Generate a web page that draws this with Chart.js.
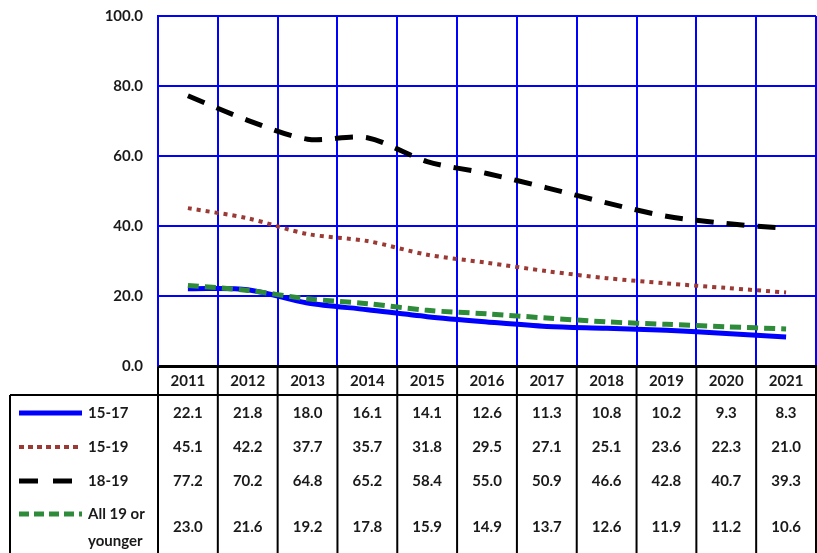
<!DOCTYPE html>
<html>
<head>
<meta charset="utf-8">
<script src="https://cdn.jsdelivr.net/npm/chart.js@4/dist/chart.umd.min.js"></script>
<style>
  html, body { margin: 0; padding: 0; background: #fff; }
  #wrap { width: 817px; height: 553px; }
</style>
</head>
<body>
<div id="wrap"><canvas id="myChart" width="817" height="553"></canvas></div>
<script>
// Years along the bottom, and the four series shown in the table.
const years = ["2011", "2012", "2013", "2014", "2015", "2016", "2017", "2018", "2019", "2020", "2021"];
const age1517 = [22.1, 21.8, 18.0, 16.1, 14.1, 12.6, 11.3, 10.8, 10.2, 9.3, 8.3];
const age1519 = [45.1, 42.2, 37.7, 35.7, 31.8, 29.5, 27.1, 25.1, 23.6, 22.3, 21.0];
const age1819 = [77.2, 70.2, 64.8, 65.2, 58.4, 55.0, 50.9, 46.6, 42.8, 40.7, 39.3];
const ageAll = [23.0, 21.6, 19.2, 17.8, 15.9, 14.9, 13.7, 12.6, 11.9, 11.2, 10.6];
const seriesNames = ["15-17", "15-19", "18-19", ["All 19 or", "younger"]];

const FONT = "Lato, 'Liberation Sans', sans-serif";
const GRID_BLUE = "#0000ff";

// keyDash: dash pattern for the little legend sample in the table
const seriesStyles = [
  { color: "#0000ff", dash: [], keyDash: [], width: 5 },
  { color: "#9b3a35", dash: [4, 5], keyDash: [5, 4], width: 4 },
  { color: "#000000", dash: [18, 13], keyDash: [19, 15], width: 5 },
  { color: "#2e8b3a", dash: [11, 6], keyDash: [10, 5], width: 5 },
];

const allSeries = [age1517, age1519, age1819, ageAll];

// draws the data table (with legend keys) under the plot, lined up with the x scale
const dataTable = {
  id: "dataTable",
  afterDraw(chart) {
    const ctx = chart.ctx;
    const xs = chart.scales.x;
    const area = chart.chartArea;
    const n = years.length;
    const centers = years.map((_, i) => xs.getPixelForValue(i));
    const bounds = [area.left];
    for (let i = 0; i < n - 1; i++) bounds.push((centers[i] + centers[i + 1]) / 2);
    bounds.push(area.right);

    const top = area.bottom + 1;
    const headBottom = area.bottom + 29;
    const bottom = chart.height;
    const tableLeft = 10;

    ctx.save();
    ctx.strokeStyle = "#000";
    ctx.lineWidth = 2;
    ctx.beginPath();
    ctx.moveTo(area.left, top);
    ctx.lineTo(area.right, top);
    ctx.moveTo(tableLeft, headBottom);
    ctx.lineTo(area.right, headBottom);
    bounds.forEach(b => {
      ctx.moveTo(b, top);
      ctx.lineTo(b, bottom);
    });
    ctx.moveTo(tableLeft, headBottom);
    ctx.lineTo(tableLeft, bottom);
    ctx.stroke();

    const rowCenters = [headBottom + 18, headBottom + 52, headBottom + 86, headBottom + 132];
    ctx.font = "bold 15px " + FONT;
    ctx.fillStyle = "#1a1a1a";
    ctx.textBaseline = "middle";

    allSeries.forEach((vals, r) => {
      const y = rowCenters[r];
      const st = seriesStyles[r];
      const name = seriesNames[r];
      const keyY = Array.isArray(name) ? y - 13 : y;
      // legend key
      ctx.save();
      ctx.strokeStyle = st.color;
      ctx.lineWidth = st.width;
      ctx.setLineDash(st.keyDash);
      ctx.beginPath();
      ctx.moveTo(19, keyY);
      ctx.lineTo(82, keyY);
      ctx.stroke();
      ctx.restore();

      ctx.textAlign = "left";
      if (Array.isArray(name)) {
        ctx.fillText(name[0], 88, y - 13);
        ctx.fillText(name[1], 88, y + 14);
      } else {
        ctx.fillText(name, 88, y);
      }

      ctx.textAlign = "center";
      vals.forEach((v, i) => ctx.fillText(v.toFixed(1), centers[i], y));
    });
    ctx.restore();
  }
};

const ctx = document.getElementById("myChart").getContext("2d");

new Chart(ctx, {
  type: "line",
  data: {
    labels: years,
    datasets: allSeries.map((vals, i) => ({
      label: Array.isArray(seriesNames[i]) ? seriesNames[i].join(" ") : seriesNames[i],
      data: vals,
      borderColor: seriesStyles[i].color,
      borderWidth: seriesStyles[i].width,
      borderDash: seriesStyles[i].dash,
      borderCapStyle: "butt",
      pointRadius: 0,
      tension: 0.3,
      fill: false,
      order: 3 - i,
    })),
  },
  options: {
    responsive: false,
    animation: false,
    layout: { padding: { top: 16, right: 1, bottom: 158, left: 0 } },
    plugins: { legend: { display: false }, tooltip: { enabled: false } },
    scales: {
      x: {
        offset: true,
        grid: { offset: true, color: GRID_BLUE, lineWidth: 2, drawTicks: false },
        border: { color: "#000", width: 2 },
        ticks: { color: "#1a1a1a", font: { family: FONT, size: 15, weight: "bold" }, padding: 6, maxRotation: 0 },
        afterFit(scale) { scale.height = 29; scale.paddingLeft = 0; scale.paddingRight = 0; },
      },
      y: {
        min: 0,
        max: 100,
        ticks: {
          stepSize: 20,
          color: "#1a1a1a",
          padding: 15,
          font: { family: FONT, size: 15, weight: "bold" },
          callback: v => v.toFixed(1),
        },
        grid: { color: GRID_BLUE, lineWidth: 2, drawTicks: false },
        border: { color: GRID_BLUE, width: 2 },
        afterFit(scale) { scale.width = 158; scale.paddingTop = 0; scale.paddingBottom = 0; },
      },
    },
  },
  plugins: [dataTable],
});
</script>
</body>
</html>
